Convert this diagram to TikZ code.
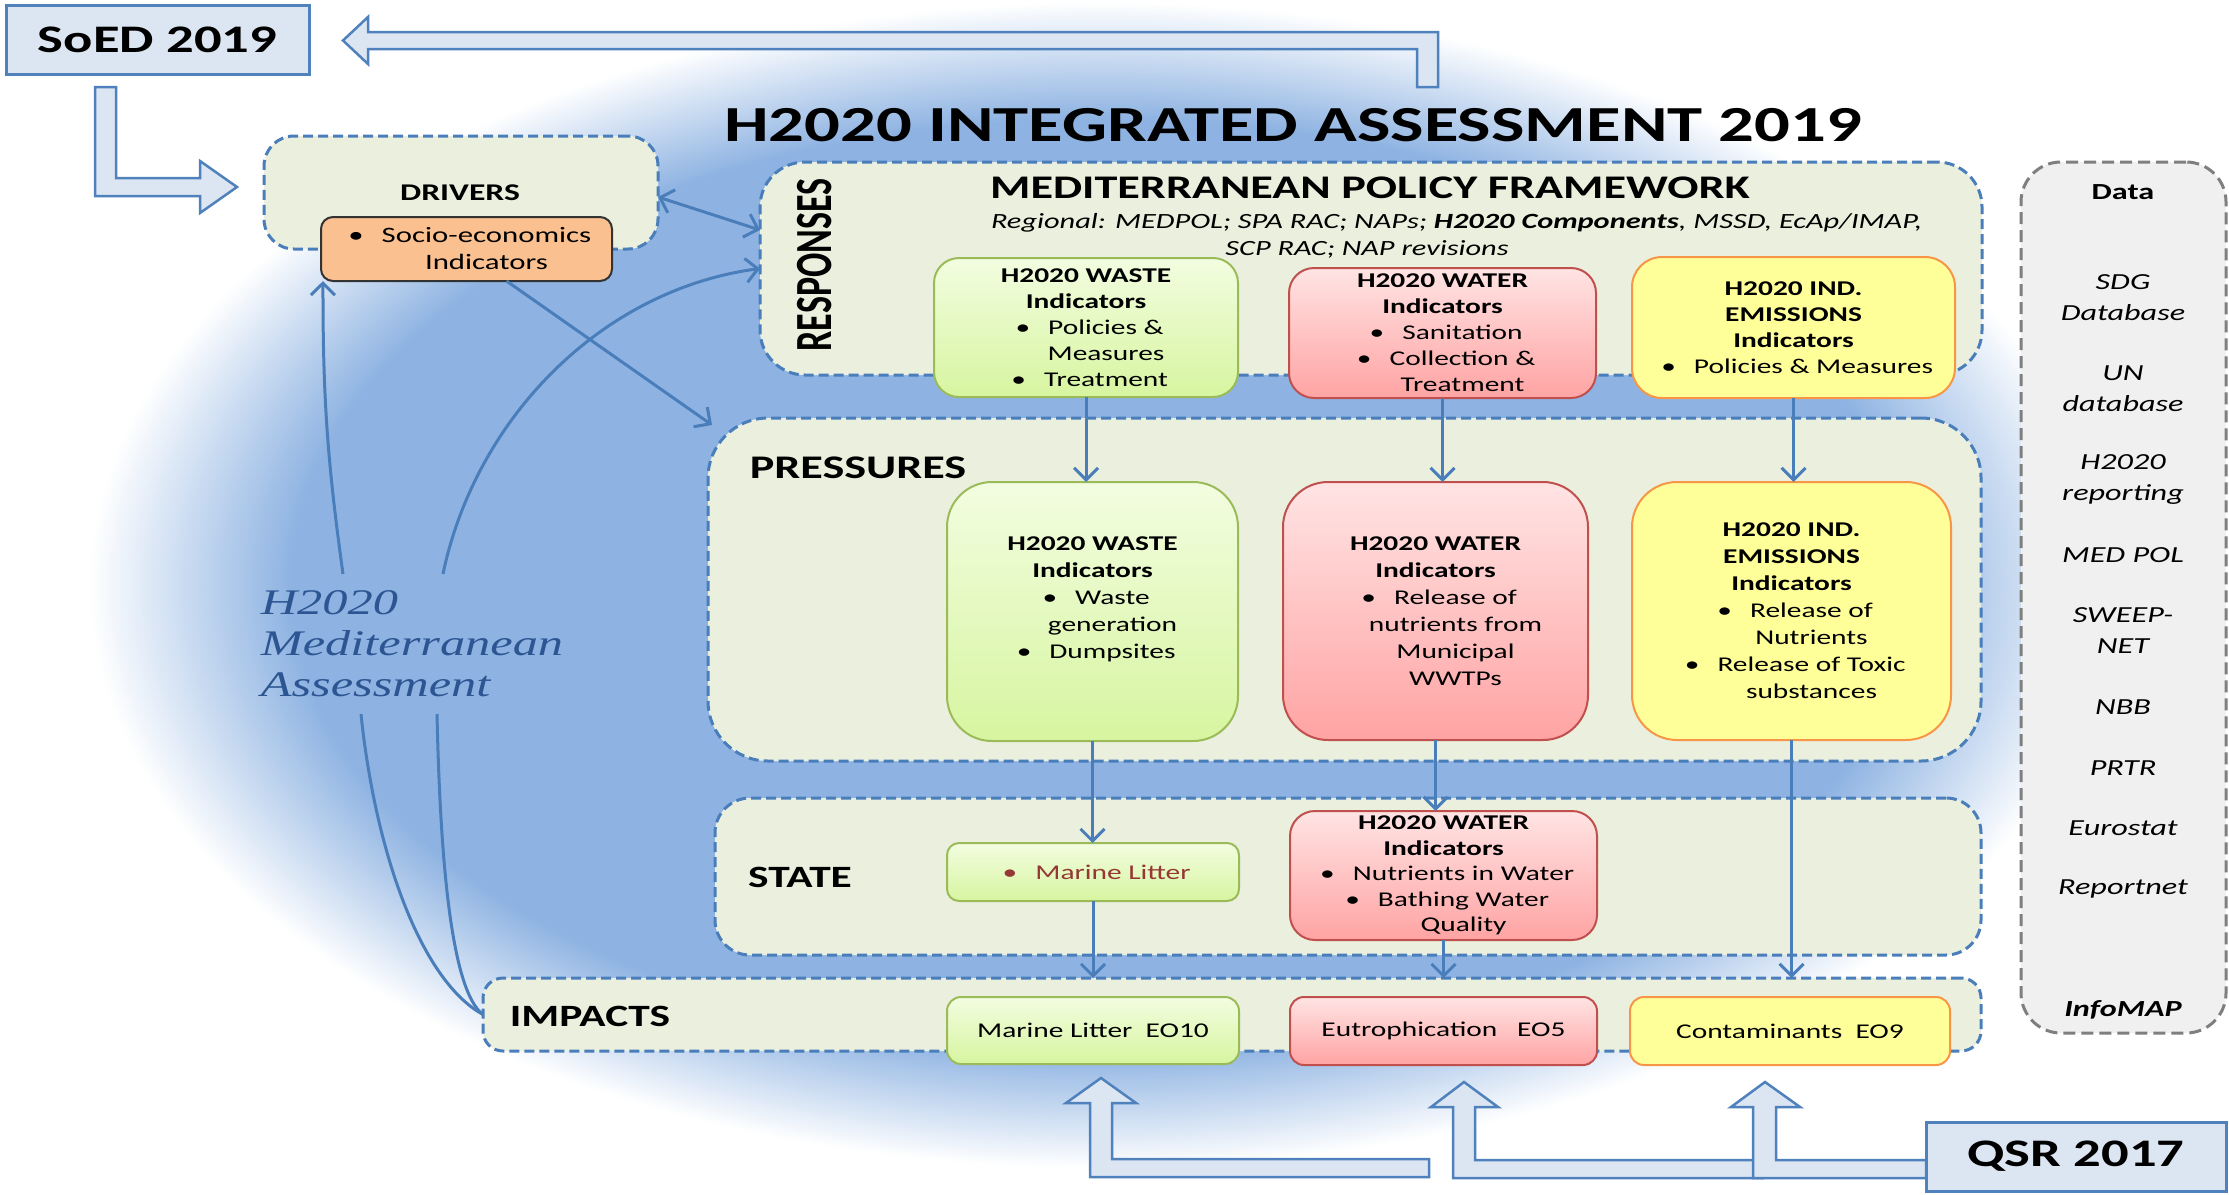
\documentclass[tikz,border=0pt]{standalone}
\usepackage{fontspec}
\usepackage{graphicx}
\setmainfont{Carlito}[FakeStretch=1.4]
\newfontfamily\rawfont{Carlito}
\newfontfamily\serifit{Liberation Serif}[FakeStretch=1.4]
\usetikzlibrary{arrows.meta}
\definecolor{glowbl}{RGB}{142,179,226}
\definecolor{framebl}{RGB}{74,126,187}
\definecolor{framefill}{RGB}{235,240,222}
\definecolor{connbl}{RGB}{74,126,187}
\definecolor{arrowfill}{RGB}{220,230,242}
\definecolor{arrowline}{RGB}{79,129,189}
\definecolor{greentop}{RGB}{242,253,224}
\definecolor{greenbot}{RGB}{215,245,160}
\definecolor{greenline}{RGB}{155,187,89}
\definecolor{redtop}{RGB}{255,228,228}
\definecolor{redbot}{RGB}{255,163,163}
\definecolor{redline}{RGB}{192,80,77}
\definecolor{yellowfill}{RGB}{255,255,153}
\definecolor{orangeline}{RGB}{247,150,70}
\definecolor{sociofill}{RGB}{250,192,144}
\definecolor{datafill}{RGB}{240,240,240}
\definecolor{dataline}{RGB}{127,127,127}
\definecolor{litterred}{RGB}{149,55,53}
\definecolor{labelbl}{RGB}{44,85,146}
\pgfdeclareradialshading{glow}{\pgfpoint{0bp}{0bp}}{color(0bp)=(glowbl); color(20bp)=(glowbl); color(25bp)=(white); color(50bp)=(white)}
\newcommand\fs[2]{\fontsize{#1}{#2}\selectfont}
\newcommand\bul[1]{\hspace*{40pt}\llap{\textbullet\hspace{18pt}}#1}
\newcommand\cont[1]{\hspace*{40pt}#1}
\tikzset{
  dframe/.style={draw=framebl, line width=3pt, dash pattern=on 10pt off 5pt, fill=framefill, rounded corners=#1},
  indbox/.style={line width=2pt, rounded corners=#1, align=center, font=\fs{21}{26}},
  waste/.style={indbox=#1, draw=greenline, top color=greentop, bottom color=greenbot},
  water/.style={indbox=#1, draw=redline, top color=redtop, bottom color=redbot},
  indem/.style={indbox=#1, draw=orangeline, fill=yellowfill},
  conn/.style={draw=connbl, line width=3pt},
  hollow/.style={draw=arrowline, line width=2.5pt, fill=arrowfill, line join=miter},
  bluebox/.style={draw=arrowline, line width=3pt, fill=arrowfill, font=\fs{39}{39}\bfseries},
  datatext/.style={font=\fs{23}{31}\itshape, align=center},
  heading/.style={font=\fs{33}{33}\bfseries},
}
\begin{document}
\begin{tikzpicture}[x=1pt,y=-1pt,inner sep=0pt,outer sep=0pt,>={Straight Barb[length=12pt,width=24pt]}]
\useasboundingbox (0,0) rectangle (2229,1194);
\fill[white] (0,0) rectangle (2229,1194);
% background glow
\shade[shading=glow] (1100,585) ellipse [x radius=1011pt, y radius=583pt];

% title
\node[font=\fs{50.5}{50.5}\bfseries, anchor=base] (title) at (1293,141) {H2020 INTEGRATED ASSESSMENT 2019};

% frames
\node[dframe=30pt, minimum width=394pt, minimum height=113pt] (drivers) at (461,192.5) {};
\node[dframe=45pt, minimum width=1222pt, minimum height=213pt] (responses) at (1371,268.5) {};
\node[dframe=60pt, minimum width=1273pt, minimum height=343pt] (pressures) at (1344.5,589.5) {};
\node[dframe=35pt, minimum width=1266pt, minimum height=157pt] (state) at (1348,876.5) {};
\node[dframe=20pt, minimum width=1498pt, minimum height=73pt] (impacts) at (1232,1014.5) {};
\node[draw=dataline, fill=datafill, line width=3pt, dash pattern=on 12pt off 6pt, rounded corners=40pt, minimum width=205pt, minimum height=871pt] (data) at (2123.5,597.5) {};

% frame labels
\node[font=\fs{24}{24}\bfseries] (driverslbl) at (460,193) {DRIVERS};
\node[rotate=90] (resplbl) at (815,265) {\scalebox{1}[1.45]{\rawfont\bfseries\fs{36}{36}RESPONSES}};
\node[heading, anchor=base] (mpf) at (1370,198) {MEDITERRANEAN POLICY FRAMEWORK};
\node[font=\fs{21.7}{27}\itshape, anchor=base west] (reg1) at (991,228) {Regional: MEDPOL; SPA RAC; NAPs; \textbf{H2020 Components}, MSSD, EcAp/IMAP,};
\node[font=\fs{21.7}{27}\itshape, anchor=base] (reg2) at (1367,255) {SCP RAC; NAP revisions};
\node[heading] (preslbl) at (858,468) {PRESSURES};
\node[font=\fs{31}{31}\bfseries] (statelbl) at (800,877) {STATE};
\node[font=\fs{31}{31}\bfseries] (implbl) at (590,1016) {IMPACTS};

% socio-economics
\node[draw=black!80, line width=2pt, fill=sociofill, rounded corners=12pt, minimum width=291pt, minimum height=64pt, align=center, font=\fs{22}{27}] (socio) at (466.5,249) {\bul{Socio-economics}\\\cont{Indicators}};

% responses indicators
\node[waste=25pt, minimum width=304pt, minimum height=139pt] (wasteR) at (1086,327.5) {\textbf{H2020 WASTE}\\\textbf{Indicators}\\\bul{Policies \&}\\\cont{Measures}\\\bul{Treatment}};
\node[water=25pt, minimum width=307pt, minimum height=130pt] (waterR) at (1442.5,333) {\textbf{H2020 WATER}\\\textbf{Indicators}\\\bul{Sanitation}\\\bul{Collection \&}\\\cont{Treatment}};
\node[indem=30pt, minimum width=323pt, minimum height=141pt] (indR) at (1793.5,327.5) {\textbf{H2020 IND.}\\\textbf{EMISSIONS}\\\textbf{Indicators}\\\bul{Policies \& Measures}};

% pressures indicators
\node[waste=45pt, minimum width=291pt, minimum height=259pt, font=\fs{21}{27}] (wasteP) at (1092.5,611.5) {\textbf{H2020 WASTE}\\\textbf{Indicators}\\\bul{Waste}\\\cont{generation}\\\bul{Dumpsites}\\\mbox{}};
\node[water=45pt, minimum width=305pt, minimum height=258pt, font=\fs{21}{27}] (waterP) at (1435.5,611) {\textbf{H2020 WATER}\\\textbf{Indicators}\\\bul{Release of}\\\cont{nutrients from}\\\cont{Municipal}\\\cont{WWTPs}};
\node[indem=45pt, minimum width=319pt, minimum height=258pt, font=\fs{21}{27}] (indP) at (1791.5,611) {\textbf{H2020 IND.}\\\textbf{EMISSIONS}\\\textbf{Indicators}\\\bul{Release of}\\\cont{Nutrients}\\\bul{Release of Toxic}\\\cont{substances}};

% state indicators
\node[waste=12pt, minimum width=292pt, minimum height=58pt] (litterS) at (1093,872) {\color{litterred}\bul{Marine Litter}};
\node[water=25pt, minimum width=307pt, minimum height=129pt, font=\fs{21}{25.5}] (waterS) at (1443.5,875.5) {\textbf{H2020 WATER}\\\textbf{Indicators}\\\bul{Nutrients in Water}\\\bul{Bathing Water}\\\cont{Quality}};

% impacts
\node[waste=14pt, minimum width=292pt, minimum height=67pt] (eo10) at (1093,1030.5) {Marine Litter\ \ EO10};
\node[water=14pt, minimum width=307pt, minimum height=68pt] (eo5) at (1443.5,1031) {Eutrophication\ \ \ EO5};
\node[indem=14pt, minimum width=320pt, minimum height=68pt] (eo9) at (1790,1031) {Contaminants\ \ EO9};

% data column
\node[datatext, font=\fs{23}{31}\bfseries] (dhead) at (2123,192) {Data};
\node[datatext] (d1) at (2123,298) {SDG\\Database};
\node[datatext] (d2) at (2123,389) {UN\\database};
\node[datatext] (d3) at (2123,480) {H2020\\reporting};
\node[datatext] (d4) at (2123,555) {MED POL};
\node[datatext] (d5) at (2123,631) {SWEEP-\\NET};
\node[datatext] (d6) at (2123,707) {NBB};
\node[datatext] (d7) at (2123,768) {PRTR};
\node[datatext] (d8) at (2123,828) {Eurostat};
\node[datatext] (d9) at (2123,889) {Reportnet};
\node[datatext, font=\fs{23}{31}\bfseries\itshape] (d10) at (2123,1010) {InfoMAP};

% reports
\node[bluebox, minimum width=303pt, minimum height=69pt] (soed) at (157.5,39.5) {SoED 2019};
\node[bluebox, minimum width=300pt, minimum height=69pt] (qsr) at (2076,1156.5) {QSR 2017};

% assessment label
\node[minimum width=310pt, minimum height=140pt, align=left, font=\serifit\itshape\fs{36}{41}, text=labelbl] (medlabel) at (412,644) {H2020\\Mediterranean\\Assessment};

% hollow block arrows
\draw[hollow] (1438,87) -- (1438,32) -- (368,32) -- (368,17) -- (343,40.5) -- (368,64) -- (368,49) -- (1417,49) -- (1417,87) -- cycle;
\draw[hollow] (95,87) -- (116,87) -- (116,178) -- (200,178) -- (200,161) -- (237,187) -- (200,213) -- (200,196) -- (95,196) -- cycle;
\draw[hollow] (1429,1159) -- (1112,1159) -- (1112,1103) -- (1136,1103) -- (1101,1078) -- (1066,1103) -- (1090,1103) -- (1090,1177) -- (1429,1177) -- cycle;
\draw[hollow] (1763,1160) -- (1475,1160) -- (1475,1107) -- (1498,1107) -- (1464,1082) -- (1431,1107) -- (1453,1107) -- (1453,1178) -- (1763,1178) -- cycle;
\draw[hollow] (1926,1160) -- (1776,1160) -- (1776,1107) -- (1800,1107) -- (1765,1082) -- (1731,1107) -- (1753,1107) -- (1753,1178) -- (1926,1178) -- cycle;

% connectors
\draw[conn,<->] ([yshift=-4.5pt]drivers.east) -- ([yshift=38.5pt]responses.west);
\draw[conn,->] ([xshift=31pt]medlabel.north) .. controls (475,420) and (600,290) .. (responses.west);
\draw[conn,->] ([xshift=-69pt]medlabel.north) to[bend left=4] ([xshift=2pt]socio.south west);
\draw[conn,->] ([xshift=40pt]socio.south) -- ([xshift=4pt,yshift=-7pt]pressures.north west);
\draw[conn] ([xshift=-51pt]medlabel.south) .. controls (375,850) and (420,980) .. (impacts.west);
\draw[conn] ([xshift=25pt]medlabel.south) .. controls (440,850) and (450,990) .. (impacts.west);

\draw[conn,->] (wasteR.south) -- (wasteR.south |- wasteP.north);
\draw[conn,->] (wasteP.south) -- (wasteP.south |- litterS.north);
\draw[conn,->] (litterS.south) -- (litterS.south |- impacts.north);
\draw[conn,->] (waterR.south) -- (waterR.south |- waterP.north);
\draw[conn,->] (waterP.south) -- (waterP.south |- waterS.north);
\draw[conn,->] (waterS.south) -- (waterS.south |- impacts.north);
\draw[conn,->] (indR.south) -- (indR.south |- indP.north);
\draw[conn,->] (indP.south) -- (indP.south |- impacts.north);
\end{tikzpicture}
\end{document}
